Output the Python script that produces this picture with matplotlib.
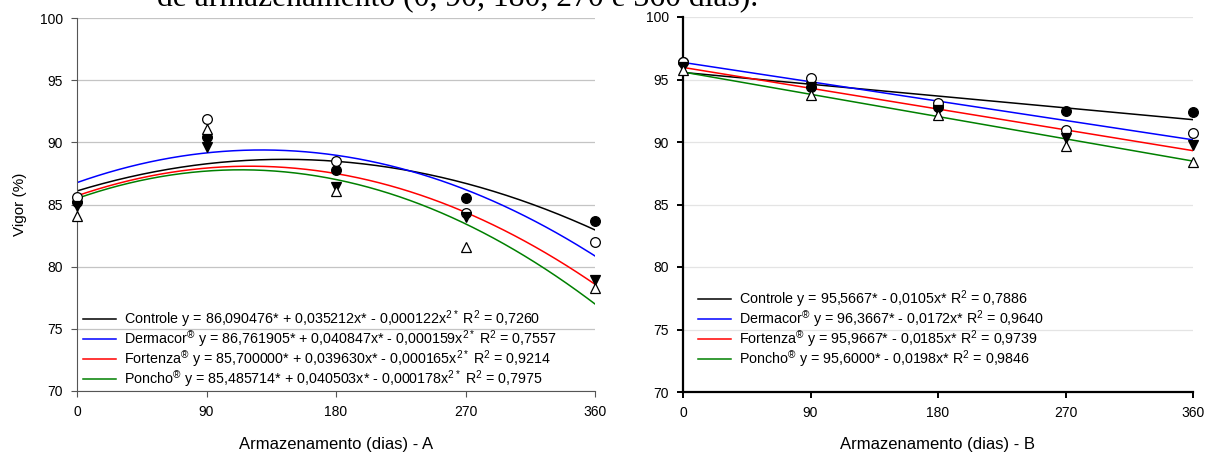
import numpy as np
import matplotlib
matplotlib.use("Agg")
import matplotlib.pyplot as plt

plt.rcParams["font.family"] = ["Liberation Sans", "DejaVu Sans"]
plt.rcParams["mathtext.fontset"] = "custom"
plt.rcParams["mathtext.rm"] = "Liberation Sans"
plt.rcParams["mathtext.it"] = "Liberation Sans"

days = [0, 90, 180, 270, 360]
treatments = ["Controle", "Dermacor", "Fortenza", "Poncho"]
colors = ["black", "blue", "red", "green"]
markers = ["o", "o", "v", "^"]
facecolors = ["black", "white", "black", "white"]

# panel A: observed means and quadratic fits (b0, b1, b2)
vigor_a = {
    "Controle": [85.2, 90.4, 87.8, 85.5, 83.7],
    "Dermacor": [85.6, 91.85, 88.5, 84.3, 82.0],
    "Fortenza": [84.9, 89.6, 86.4, 84.0, 78.9],
    "Poncho": [84.1, 91.1, 86.1, 81.6, 78.3],
}
coef_a = {
    "Controle": [86.090476, 0.035212, -0.000122],
    "Dermacor": [86.761905, 0.040847, -0.000159],
    "Fortenza": [85.700000, 0.039630, -0.000165],
    "Poncho": [85.485714, 0.040503, -0.000178],
}
labels_a = [
    "Controle y = 86,090476* + 0,035212x* - 0,000122x$^{2*}$ R$^{2}$ = 0,7260",
    "Dermacor$^{®}$ y = 86,761905* + 0,040847x* - 0,000159x$^{2*}$ R$^{2}$ = 0,7557",
    "Fortenza$^{®}$ y = 85,700000* + 0,039630x* - 0,000165x$^{2*}$ R$^{2}$ = 0,9214",
    "Poncho$^{®}$ y = 85,485714* + 0,040503x* - 0,000178x$^{2*}$ R$^{2}$ = 0,7975",
]

# panel B: observed means and linear fits (b0, b1)
vigor_b = {
    "Controle": [96.4, 94.4, 92.8, 92.5, 92.4],
    "Dermacor": [96.4, 95.15, 93.15, 91.0, 90.7],
    "Fortenza": [96.0, 94.4, 92.55, 90.3, 89.75],
    "Poncho": [95.75, 93.75, 92.2, 89.7, 88.4],
}
coef_b = {
    "Controle": [95.5667, -0.0105],
    "Dermacor": [96.3667, -0.0172],
    "Fortenza": [95.9667, -0.0185],
    "Poncho": [95.6000, -0.0198],
}
labels_b = [
    "Controle y = 95,5667* - 0,0105x* R$^{2}$ = 0,7886",
    "Dermacor$^{®}$ y = 96,3667* - 0,0172x* R$^{2}$ = 0,9640",
    "Fortenza$^{®}$ y = 95,9667* - 0,0185x* R$^{2}$ = 0,9739",
    "Poncho$^{®}$ y = 95,6000* - 0,0198x* R$^{2}$ = 0,9846",
]

W, H = 1211, 453
fig = plt.figure(figsize=(W / 100, H / 100), dpi=100)


def px_axes(x0, x1, ytop, ybot):
    return fig.add_axes([x0 / W, 1 - ybot / H, (x1 - x0) / W, (ybot - ytop) / H])


ax_a = px_axes(77, 595, 18, 391)
ax_b = px_axes(683, 1193, 17, 392)

xs = np.linspace(0, 360, 200)

for ax, data, coefs, labels in [
    (ax_a, vigor_a, coef_a, labels_a),
    (ax_b, vigor_b, coef_b, labels_b),
]:
    for i, name in enumerate(treatments):
        fit = sum(b * xs ** k for k, b in enumerate(coefs[name]))
        ax.plot(xs, fit, color=colors[i], linewidth=1.1, label=labels[i])
    for i, name in enumerate(treatments):
        ax.plot(days, data[name], linestyle="none", marker=markers[i],
                markersize=7, markerfacecolor=facecolors[i],
                markeredgecolor="black", markeredgewidth=0.9, clip_on=False,
                zorder=5)
    ax.set_xlim(0, 360)
    ax.set_ylim(70, 100)
    ax.set_xticks(days)
    ax.set_yticks(range(70, 101, 5))
    ax.spines["top"].set_visible(False)
    ax.spines["right"].set_visible(False)
    ax.set_axisbelow(True)
    ax.tick_params(labelsize=10, length=4, pad=6)

# left panel: grey frame, darker grid
ax_a.grid(axis="y", color="#c4c4c4", linewidth=0.9)
for s in ["left", "bottom"]:
    ax_a.spines[s].set_color("#555555")
ax_a.tick_params(color="#555555")

# right panel: black frame, light grid
ax_b.grid(axis="y", color="#e4e4e4", linewidth=0.9)
for s in ["left", "bottom"]:
    ax_b.spines[s].set_linewidth(1.6)
ax_b.tick_params(width=1.4)

ax_a.set_xlabel("Armazenamento (dias) - A", fontsize=12, labelpad=13)
ax_b.set_xlabel("Armazenamento (dias) - B", fontsize=12, labelpad=12)
ax_a.set_ylabel("Vigor (%)", fontsize=11, labelpad=9)

leg_kw = dict(loc="upper left", frameon=False, fontsize=10.3, handlelength=2.3,
              handletextpad=0.55, labelspacing=-0.08, borderpad=0,
              borderaxespad=0, bbox_transform=fig.transFigure)
ax_a.legend(bbox_to_anchor=(83 / W, 1 - 308 / H), **leg_kw)
ax_b.legend(bbox_to_anchor=(698 / W, 1 - 288 / H), **leg_kw)

fig.text(157 / W, 1 - 6 / H, "de armazenamento (0, 90, 180, 270 e 360 dias).",
         family="Liberation Serif", fontsize=22.8, va="baseline")

fig.savefig("out.png", dpi=100)
